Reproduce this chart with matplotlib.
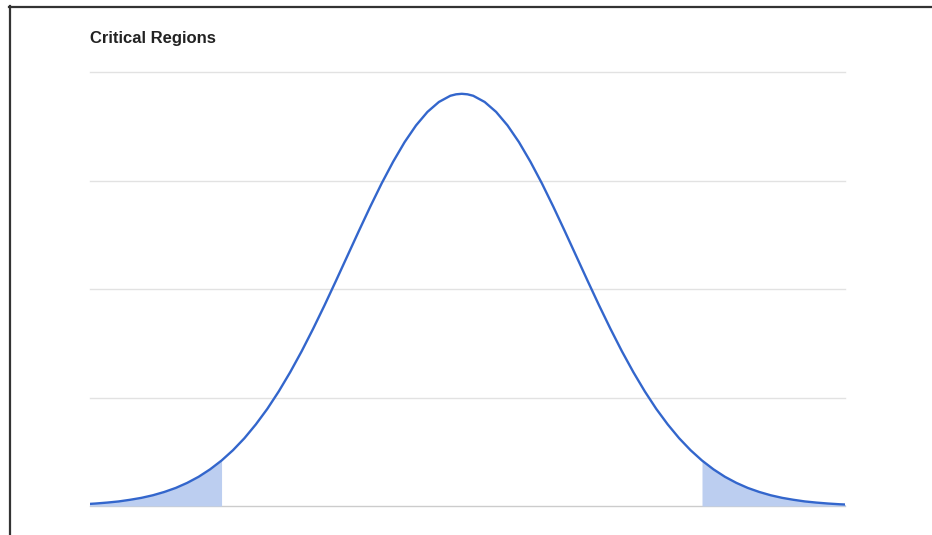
import matplotlib
matplotlib.use("Agg")
import matplotlib.pyplot as plt
from matplotlib.lines import Line2D

# Data (z value, density)
x_vals = [-3.3, -3.2, -3.1, -3.0, -2.9, -2.8, -2.7, -2.6, -2.5, -2.4, -2.3, -2.2, -2.1,
          -2.0, -1.9, -1.8, -1.7, -1.6, -1.5, -1.4, -1.3, -1.2, -1.1, -1.0, -0.9, -0.8,
          -0.7, -0.6, -0.5, -0.4, -0.3, -0.2, -0.1, -0.05, 0.0, 0.05, 0.1, 0.2, 0.3, 0.4, 0.5, 0.6,
          0.7, 0.8, 0.9, 1.0, 1.1, 1.2, 1.3, 1.4, 1.5, 1.6, 1.7, 1.8, 1.9, 2.0, 2.1,
          2.2, 2.3, 2.4, 2.5, 2.6, 2.7, 2.8, 2.9, 3.0, 3.1, 3.2, 3.3, 3.4]
y_vals = [0.0017, 0.0024, 0.0033, 0.0044, 0.0060, 0.0079, 0.0104, 0.0136, 0.0175, 0.0224,
          0.0283, 0.0355, 0.0440, 0.0540, 0.0656, 0.0790, 0.0940, 0.1109, 0.1295, 0.1497,
          0.1714, 0.1942, 0.2179, 0.2420, 0.2661, 0.2897, 0.3123, 0.3332, 0.3521, 0.3683,
          0.3814, 0.3910, 0.3970, 0.3984, 0.3989, 0.3984, 0.3970, 0.3910, 0.3814, 0.3683, 0.3521, 0.3332,
          0.3123, 0.2897, 0.2661, 0.2420, 0.2179, 0.1942, 0.1714, 0.1497, 0.1295, 0.1109,
          0.0940, 0.0790, 0.0656, 0.0540, 0.0440, 0.0355, 0.0283, 0.0224, 0.0175, 0.0136,
          0.0104, 0.0079, 0.0060, 0.0044, 0.0033, 0.0024, 0.0017, 0.0012]
critical_low = -2.1
critical_high = 2.1
title = "Critical Regions"

W, H = 932, 535
fig = plt.figure(figsize=(W / 100, H / 100), dpi=100)
fig.patch.set_facecolor("white")

ax = fig.add_axes([90 / W, 1 - 506 / H, 755 / W, 434 / H])
ax.set_xlim(-3.25, 3.35)
ax.set_ylim(0, 0.42)

# gridlines
for g in [0.105, 0.21, 0.315, 0.42]:
    ax.axhline(g, color="#e2e2e2", lw=1.0, zorder=0, clip_on=False)
ax.axhline(0, color="#cccccc", lw=1.0, zorder=0.5, clip_on=False)

left_mask = [x <= critical_low + 1e-9 for x in x_vals]
right_mask = [x >= critical_high - 1e-9 for x in x_vals]
ax.fill_between(x_vals, 0, y_vals, where=left_mask, color="#bccef0", lw=0, zorder=1)
ax.fill_between(x_vals, 0, y_vals, where=right_mask, color="#bccef0", lw=0, zorder=1)
ax.plot(x_vals, y_vals, color="#3366cc", lw=1.7, zorder=2,
        solid_capstyle="round", solid_joinstyle="round")

for s in ax.spines.values():
    s.set_visible(False)
ax.set_xticks([])
ax.set_yticks([])
ax.patch.set_alpha(0)

fig.text(90 / W, 1 - 38 / H, title, fontsize=12, fontweight="bold",
         family=["Liberation Sans", "DejaVu Sans"], va="center", ha="left", color="#222222")

# outer border (top and left)
fig.add_artist(Line2D([9 / W, 1], [1 - 6.5 / H, 1 - 6.5 / H], transform=fig.transFigure,
                      color="#333333", lw=1.6))
fig.add_artist(Line2D([9.5 / W, 9.5 / W], [1 - 6 / H, 0], transform=fig.transFigure,
                      color="#333333", lw=1.6))

fig.savefig("out.png", dpi=100)
